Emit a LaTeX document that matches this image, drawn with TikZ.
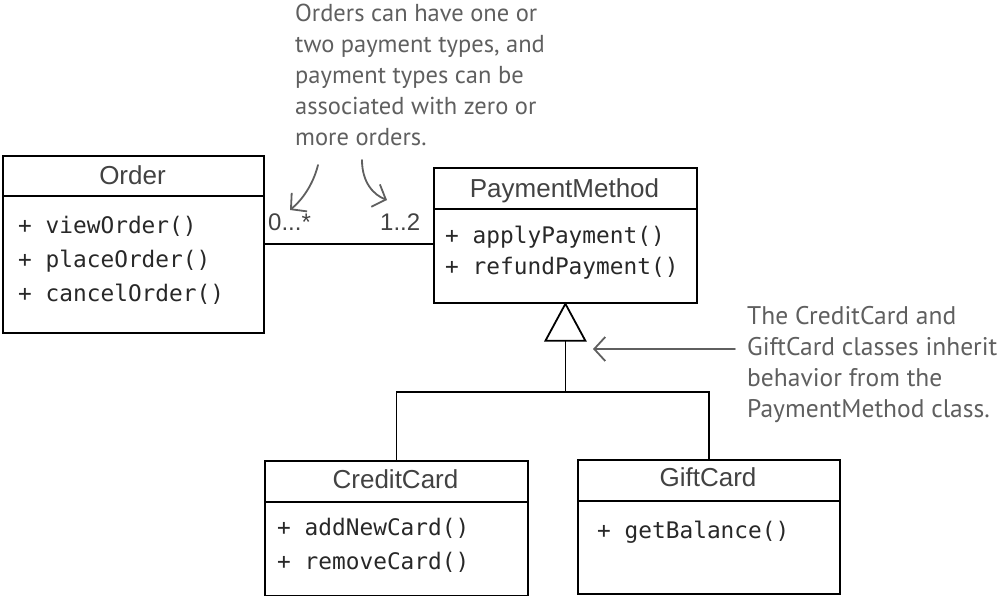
\documentclass[tikz,border=0pt]{standalone}
\usepackage{fontspec}
\newfontfamily\hdrfont{Liberation Sans}
\newfontfamily\codefont{DejaVu Sans Mono}
\newfontfamily\handfont{PT Sans}
\usetikzlibrary{calc,arrows.meta}
\definecolor{hdrgray}{RGB}{66,66,66}
\definecolor{codegray}{RGB}{40,40,40}
\definecolor{notegray}{RGB}{95,95,95}
\begin{document}
\begin{tikzpicture}[x=1pt,y=-1pt,
  classbox/.style={draw=black, line width=1.8pt, rectangle, inner sep=0pt, anchor=north west},
  boxline/.style={draw=black, line width=1.8pt},
  conn/.style={draw=black, line width=1.6pt},
  clsname/.style={font=\hdrfont\fontsize{26}{30}\selectfont, text=hdrgray, anchor=base, inner sep=0pt},
  meth/.style={font=\codefont\fontsize{22.8}{28}\selectfont, text=codegray, anchor=base west, inner sep=0pt},
  mult/.style={font=\hdrfont\fontsize{24}{28}\selectfont, text=hdrgray, anchor=base west, inner sep=0pt},
  note/.style={font=\handfont\fontsize{24.5}{31}\selectfont, text=notegray, anchor=base west, inner sep=0pt},
  noteR/.style={note, font=\handfont\fontsize{25.5}{31}\selectfont},
  notearrow/.style={draw=notegray, line width=1.8pt, line cap=round, -{Straight Barb[length=11pt,width=24pt,line width=1.8pt]}}
]
\useasboundingbox (0,0) rectangle (1000,596);

% class boxes
\node[classbox, minimum width=261pt, minimum height=177pt] (order) at (2,155) {};
\node[classbox, minimum width=263pt, minimum height=135pt] (pm) at (433,167) {};
\node[classbox, minimum width=263pt, minimum height=135pt] (cc) at (264,460) {};
\node[classbox, minimum width=262pt, minimum height=134pt] (gc) at (577,459) {};

% dividers
\draw[boxline] (order.west |- 0,196) -- (order.east |- 0,196);
\draw[boxline] (pm.west |- 0,209) -- (pm.east |- 0,209);
\draw[boxline] (cc.west |- 0,502) -- (cc.east |- 0,502);
\draw[boxline] (gc.west |- 0,501) -- (gc.east |- 0,501);

% class names
\node[clsname] (ordername) at (132.5,185) {Order};
\node[clsname] (pmname) at (564.5,197) {PaymentMethod};
\node[clsname] (ccname) at (395.5,488) {CreditCard};
\node[clsname] (gcname) at (708,486) {GiftCard};

% methods
\node[meth] (m1) at (18,233) {+ viewOrder()};
\node[meth] (m2) at (18,267) {+ placeOrder()};
\node[meth] (m3) at (18,301) {+ cancelOrder()};
\node[meth] (m4) at (445,243) {+ applyPayment()};
\node[meth] (m5) at (445,274) {+ refundPayment()};
\node[meth] (m6) at (277,535) {+ addNewCard()};
\node[meth] (m7) at (277,569) {+ removeCard()};
\node[meth] (m8) at (597,538) {+ getBalance()};

% association
\draw[conn] (order.east |- 0,244) -- (pm.west |- 0,244);
\node[mult] (mulA) at (268,230) {0...*};
\node[mult] (mulB) at (380,230) {1..2};

% inheritance
\coordinate (tribase) at ($(pm.south)+(0,37)$);
\coordinate (jn) at ($(tribase)+(0,51)$);
\draw[conn] (tribase) -- (jn);
\draw[conn] (cc.north) |- (jn) -| (gc.north);
\draw[boxline, fill=white, line join=miter] (pm.south) -- ($(tribase)+(-20,0)$) -- ($(tribase)+(20,0)$) -- cycle;

% top annotation
\node[note] (t1) at (295,22) {Orders can have one or};
\node[note] (t2) at (295,53) {two payment types, and};
\node[note] (t3) at (295,84) {payment types can be};
\node[note] (t4) at (295,115) {associated with zero or};
\node[note] (t5) at (295,146) {more orders.};
\coordinate (aAs) at (318,165);
\coordinate (aAe) at (290,210);
\coordinate (aBs) at (362,160);
\coordinate (aBe) at (387,200);
\draw[notearrow] (aAs) .. controls (313,185) and (302,200) .. (aAe);
\draw[notearrow] (aBs) .. controls (362,183) and (374,195) .. (aBe);

% right annotation
\node[noteR] (r1) at (747,324) {The CreditCard and};
\node[noteR] (r2) at (747,355) {GiftCard classes inherit};
\node[noteR] (r3) at (747,386) {behavior from the};
\node[noteR] (r4) at (747,417) {PaymentMethod class.};
\coordinate (hAs) at (735,349);
\coordinate (hAe) at (593,349);
\draw[notearrow] (hAs) -- (hAe);
\end{tikzpicture}
\end{document}
